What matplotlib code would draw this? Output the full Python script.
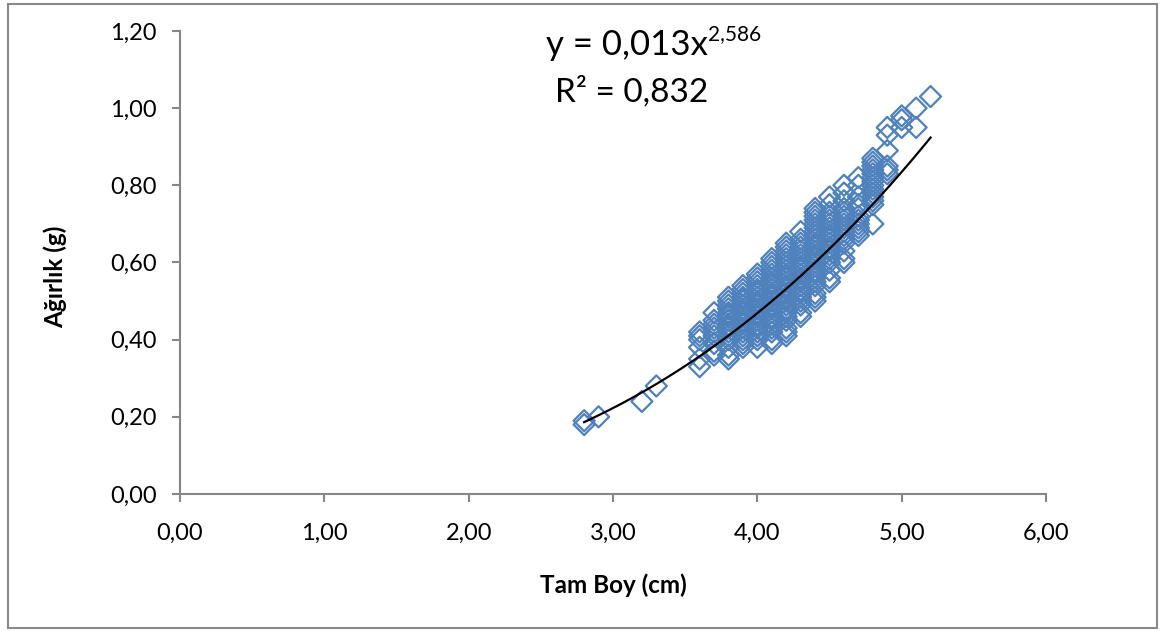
import numpy as np
import matplotlib.pyplot as plt
from matplotlib.patches import Rectangle

plt.rcParams['font.family'] = ['Lato', 'DejaVu Sans']

# Tam boy (cm) sütunları ve her sütundaki ağırlık (g) değerleri
boy_degerleri = [2.8, 2.9, 3.2, 3.3, 3.6, 3.7, 3.8, 3.9, 4.0, 4.1, 4.2,
                 4.3, 4.4, 4.5, 4.6, 4.7, 4.8, 4.9, 5.0, 5.1, 5.2]
agirlik_sutunlari = [
    [0.18, 0.19],
    [0.20],
    [0.24],
    [0.28],
    [0.33, 0.35, 0.38, 0.40, 0.41, 0.42],
    [0.36, 0.37, 0.39, 0.41, 0.42, 0.43, 0.44, 0.45, 0.47],
    [0.35, 0.36, 0.38, 0.40, 0.41, 0.42, 0.43, 0.44, 0.45, 0.46, 0.47, 0.48,
     0.49, 0.50, 0.51, 0.435, 0.465],
    [0.38, 0.39, 0.40, 0.41, 0.42, 0.43, 0.44, 0.45, 0.46, 0.47, 0.48, 0.49,
     0.50, 0.51, 0.52, 0.53, 0.54, 0.445, 0.475, 0.505],
    [0.38, 0.40, 0.41, 0.42, 0.43, 0.44, 0.45, 0.46, 0.47, 0.48, 0.49, 0.50,
     0.51, 0.52, 0.53, 0.54, 0.55, 0.56, 0.57, 0.435, 0.465, 0.495, 0.525],
    [0.39, 0.40, 0.42, 0.43, 0.44, 0.45, 0.46, 0.47, 0.48, 0.49, 0.50, 0.51,
     0.52, 0.53, 0.54, 0.55, 0.56, 0.57, 0.58, 0.59, 0.60, 0.61, 0.455,
     0.485, 0.515, 0.545],
    [0.41, 0.42, 0.43, 0.45, 0.46, 0.47, 0.48, 0.49, 0.50, 0.51, 0.52, 0.53,
     0.54, 0.55, 0.56, 0.57, 0.58, 0.59, 0.60, 0.61, 0.62, 0.63, 0.64, 0.65,
     0.475, 0.505, 0.535, 0.565],
    [0.46, 0.47, 0.49, 0.50, 0.51, 0.52, 0.53, 0.54, 0.55, 0.56, 0.57, 0.58,
     0.59, 0.60, 0.61, 0.62, 0.63, 0.64, 0.65, 0.66, 0.68, 0.525, 0.555,
     0.585],
    [0.50, 0.51, 0.52, 0.54, 0.55, 0.56, 0.57, 0.58, 0.59, 0.60, 0.61, 0.62,
     0.63, 0.64, 0.65, 0.66, 0.67, 0.68, 0.69, 0.70, 0.71, 0.72, 0.73, 0.74,
     0.575, 0.615, 0.645],
    [0.55, 0.56, 0.58, 0.60, 0.61, 0.62, 0.63, 0.64, 0.65, 0.66, 0.67, 0.68,
     0.69, 0.70, 0.71, 0.72, 0.73, 0.75, 0.77, 0.635, 0.665],
    [0.60, 0.61, 0.63, 0.65, 0.66, 0.67, 0.68, 0.69, 0.70, 0.71, 0.72, 0.73,
     0.74, 0.76, 0.78, 0.80],
    [0.67, 0.68, 0.69, 0.70, 0.71, 0.72, 0.74, 0.75, 0.77, 0.80, 0.82],
    [0.70, 0.75, 0.76, 0.77, 0.78, 0.79, 0.80, 0.81, 0.82, 0.83, 0.84, 0.85,
     0.86, 0.87],
    [0.83, 0.84, 0.85, 0.89, 0.93, 0.95],
    [0.95, 0.97, 0.98],
    [0.95, 1.00],
    [1.03],
]

# Üs fonksiyonu trend çizgisi: y = a * x^b
a_katsayi = 0.013
b_us = 2.586
r_kare = 0.832

tam_boy = np.repeat(boy_degerleri, [len(s) for s in agirlik_sutunlari])
agirlik = np.concatenate(agirlik_sutunlari)

fig = plt.figure(figsize=(11.63, 6.31), dpi=100)
ax = fig.add_axes([0.1548, 0.2171, 0.7446, 0.7338])

ax.scatter(tam_boy, agirlik, marker='D', s=115, facecolors='none',
           edgecolors='#4F81BD', linewidths=1.6, zorder=2)

xt = np.linspace(tam_boy.min(), tam_boy.max(), 200)
ax.plot(xt, a_katsayi * xt ** b_us, color='black', lw=1.6, zorder=3)

ax.set_xlim(0, 6)
ax.set_ylim(0, 1.2)
ax.set_xticks(np.arange(0, 6.01, 1))
ax.set_yticks(np.arange(0, 1.21, 0.2))
ax.set_xticklabels([f'{v:.2f}'.replace('.', ',') for v in np.arange(0, 6.01, 1)])
ax.set_yticklabels([f'{v:.2f}'.replace('.', ',') for v in np.arange(0, 1.21, 0.2)])

for s in ['top', 'right']:
    ax.spines[s].set_visible(False)
for s in ['left', 'bottom']:
    ax.spines[s].set_color('#868686')
    ax.spines[s].set_linewidth(1.5)
ax.tick_params(axis='both', colors='#868686', labelcolor='black', length=6,
               width=1.5, labelsize=17)
ax.tick_params(axis='y', pad=11)
ax.tick_params(axis='x', pad=15)

ax.set_xlabel('Tam Boy (cm)', fontsize=17.5, fontweight='bold')
ax.set_ylabel('Ağırlık (g)', fontsize=17.5, fontweight='bold')
ax.xaxis.set_label_coords(0.5, -0.172)
ax.yaxis.set_label_coords(-0.13, 0.47)

t1 = fig.text(0.6088, 0.928, 'y = 0,013x', fontsize=25, ha='right', va='center')
ax.annotate('2,586', xy=(1.0, 0.55), xycoords=t1, fontsize=15,
            ha='left', va='bottom')
fig.text(0.5434, 0.855, 'R² = 0,832', fontsize=24, ha='center', va='center')

fig.add_artist(Rectangle((0.0065, 0.004), 0.988, 0.99, transform=fig.transFigure,
                         fill=False, edgecolor='#888888', lw=1.5))

fig.savefig('out.png', dpi=100)
